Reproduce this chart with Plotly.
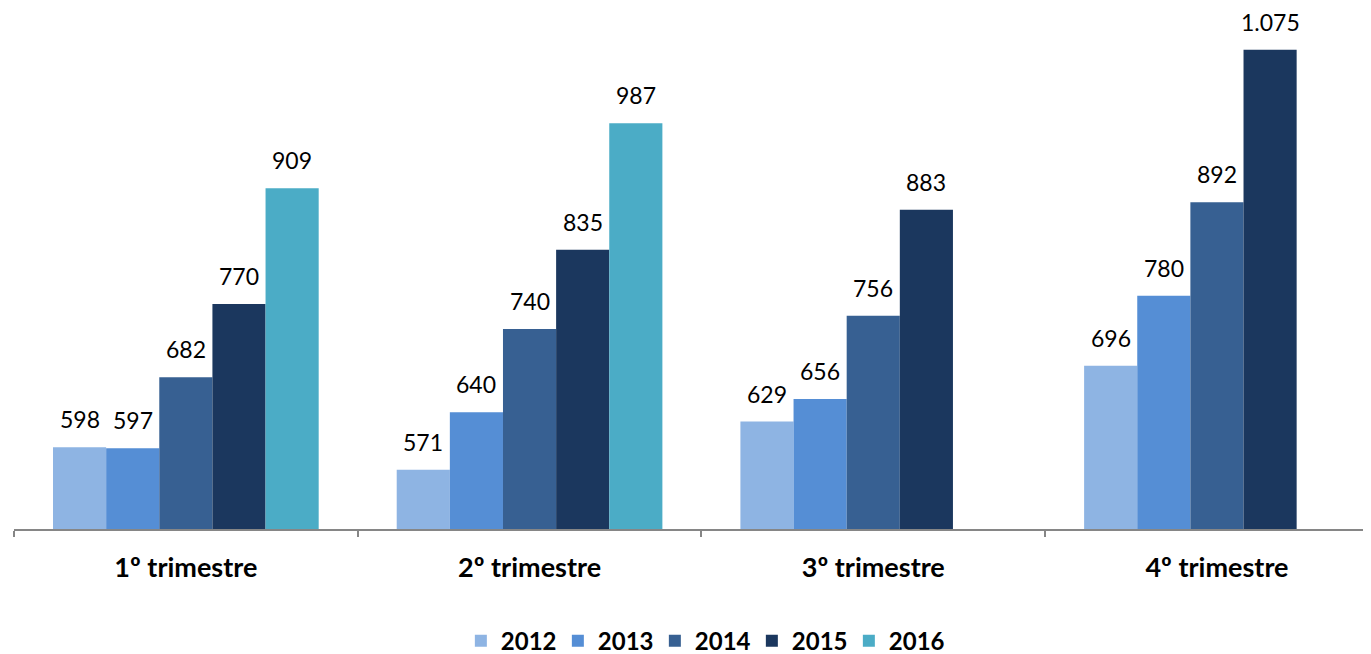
import plotly.graph_objects as go

categories = ["1º trimestre", "2º trimestre", "3º trimestre", "4º trimestre"]
years = ["2012", "2013", "2014", "2015", "2016"]
v2012 = [598, 571, 629, 696]
v2013 = [597, 640, 656, 780]
v2014 = [682, 740, 756, 892]
v2015 = [770, 835, 883, 1075]
v2016 = [909, 987, None, None]
colors = ["#8EB4E3", "#558ED5", "#376092", "#1B375E", "#4BACC6"]

series = [v2012, v2013, v2014, v2015, v2016]
BARGAP = 0.227
FONT = "Lato, 'Open Sans', sans-serif"

fig = go.Figure()
for name, vals, col in zip(years, series, colors):
    fig.add_trace(go.Bar(name=name, x=categories, y=vals, marker_color=col,
                         marker_line_width=0))

n = len(series)
w = (1 - BARGAP) / n
for j, vals in enumerate(series):
    for i, v in enumerate(vals):
        if v is None:
            continue
        xpos = i - (1 - BARGAP) / 2 + (j + 0.5) * w
        fig.add_annotation(x=xpos, y=v, xref="x", yref="y",
                           text=f"{v:,}".replace(",", "."),
                           showarrow=False, yanchor="bottom", yshift=12,
                           font=dict(family=FONT, size=23, color="#000000"))

# page body has an 8px default margin, so the figure is 8px smaller than the window
fig.update_layout(
    width=1363, height=646,
    margin=dict(l=6, r=0, t=21, b=125, autoexpand=False),
    paper_bgcolor="white", plot_bgcolor="white",
    barmode="group", bargap=BARGAP, bargroupgap=0,
    font=dict(family=FONT, color="#000000"),
    legend=dict(orientation="h", x=0.508, xanchor="center",
                yref="container", y=0.02, yanchor="middle",
                font=dict(family=FONT, size=24, color="#000000", weight="bold"),
                itemwidth=30, traceorder="normal", entrywidth=52, entrywidthmode="pixels"),
    showlegend=True,
)
fig.update_xaxes(range=[-0.5, -0.5 + 1357 / 343.7], tickson="boundaries",
                 ticks="outside", ticklen=6, tickcolor="#868686", tickwidth=2,
                 showline=True, linecolor="#868686", linewidth=2,
                 tickfont=dict(family=FONT, size=27, color="#000000", weight="bold"),
                 ticklabelstandoff=14, showgrid=False, automargin=False)
fig.update_yaxes(range=[500, 1100], visible=False, showgrid=False, zeroline=False,
                 automargin=False)

fig.write_html("out.html")
